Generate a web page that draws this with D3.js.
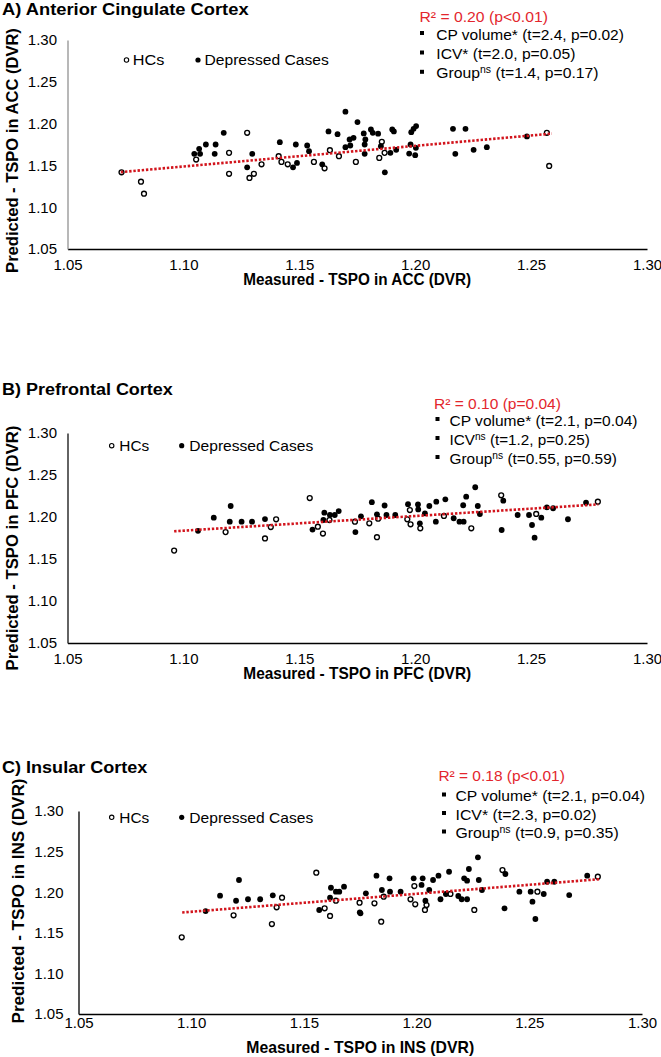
<!DOCTYPE html>
<html><head><meta charset="utf-8">
<script src="https://cdn.jsdelivr.net/npm/d3@7"></script>
<style>
body{margin:0;background:#fff;}
svg{display:block;}
text{font-family:"Liberation Sans",Arial,Helvetica,sans-serif;fill:#000;}
</style>
</head><body>
<svg id="chart" width="661" height="1057"></svg>
<script>
// ---------------- DATA ----------------
const xTicks = [1.05, 1.10, 1.15, 1.20, 1.25, 1.30];
const yTicks = [1.05, 1.10, 1.15, 1.20, 1.25, 1.30];
const legendLabels = ["HCs", "Depressed Cases"];

// Panel A: ACC  [measured, predicted]
const accHC = [[1.0733,1.1417],[1.0817,1.1305],[1.0830,1.1161],[1.1055,1.1570],[1.1197,1.1650],[1.1197,1.1400],[1.1275,1.1890],[1.1285,1.1350],[1.1304,1.1400],[1.1337,1.1513],[1.1411,1.1610],[1.1423,1.1542],[1.1450,1.1513],[1.1563,1.1542],[1.1609,1.1465],[1.1632,1.1682],[1.1671,1.1610],[1.1744,1.1542],[1.1856,1.1782],[1.1868,1.1650],[1.1845,1.1590],[1.2568,1.1890],[1.2578,1.1494]];
const accDC = [[1.1047,1.1638],[1.1072,1.1638],[1.1068,1.1698],[1.1097,1.1750],[1.1139,1.1750],[1.1135,1.1638],[1.1174,1.1890],[1.1297,1.1638],[1.1275,1.1477],[1.1416,1.1778],[1.1473,1.1477],[1.1490,1.1530],[1.1485,1.1750],[1.1534,1.1738],[1.1542,1.1670],[1.1599,1.1513],[1.1626,1.1906],[1.1665,1.1874],[1.1699,1.2143],[1.1699,1.1718],[1.1717,1.1810],[1.1734,1.1830],[1.1720,1.1738],[1.1751,1.2018],[1.1778,1.1882],[1.1809,1.1930],[1.1817,1.1890],[1.1840,1.1879],[1.1785,1.1810],[1.1782,1.1750],[1.1782,1.1638],[1.1852,1.1730],[1.1893,1.1650],[1.1918,1.1686],[1.1869,1.1417],[1.1901,1.1930],[1.1908,1.1906],[1.1983,1.1898],[1.1993,1.1938],[1.2004,1.1970],[1.1980,1.1750],[1.1974,1.1642],[1.2000,1.1622],[1.2003,1.1710],[1.2163,1.1938],[1.2217,1.1938],[1.2173,1.1638],[1.2252,1.1686],[1.2309,1.1718],[1.2482,1.1846]];
const accTrend = [[1.073,1.142],[1.259,1.188]];
const accR2 = "R\u00B2 = 0.20 (p<0.01)";
const accRows = [["CP volume","*"," (t=2.4, p=0.02)"],["ICV","*"," (t=2.0, p=0.05)"],["Group","ns"," (t=1.4, p=0.17)"]];

// Panel B: PFC
const pfcHC = [[1.0960,1.1600],[1.1182,1.1820],[1.1352,1.1745],[1.1377,1.1880],[1.1400,1.1973],[1.1545,1.2226],[1.1580,1.1885],[1.1602,1.1803],[1.1630,1.1964],[1.1740,1.1944],[1.1802,1.1925],[1.1835,1.1760],[1.1840,1.1980],[1.1966,1.1973],[1.1977,1.2083],[1.1980,1.1913],[1.2022,1.1865],[1.2124,1.2012],[1.2242,1.1865],[1.2371,1.2258],[1.2522,1.2036],[1.2788,1.2182]];
const pfcDC = [[1.1063,1.1835],[1.1131,1.1992],[1.1204,1.2131],[1.1200,1.1944],[1.1251,1.1944],[1.1296,1.1944],[1.1352,1.1975],[1.1557,1.1850],[1.1604,1.1964],[1.1608,1.2051],[1.1632,1.2024],[1.1653,1.2024],[1.1670,1.2071],[1.1742,1.1820],[1.1766,1.2008],[1.1813,1.2177],[1.1835,1.2032],[1.1868,1.2137],[1.1876,1.2024],[1.1914,1.2024],[1.1969,1.2153],[1.2012,1.2149],[1.2013,1.2090],[1.2020,1.1925],[1.2042,1.2044],[1.2061,1.2131],[1.2089,1.1944],[1.2091,1.2182],[1.2130,1.2211],[1.2166,1.1985],[1.2191,1.1944],[1.2209,1.1944],[1.2207,1.2140],[1.2220,1.2242],[1.2259,1.2354],[1.2270,1.2131],[1.2279,1.2036],[1.2373,1.1845],[1.2380,1.2194],[1.2442,1.2024],[1.2491,1.2024],[1.2504,1.1905],[1.2515,1.1754],[1.2544,1.1992],[1.2568,1.2115],[1.2595,1.2104],[1.2659,1.1973],[1.2737,1.2170]];
const pfcTrend = [[1.096,1.183],[1.279,1.215]];
const pfcR2 = "R\u00B2 = 0.10 (p=0.04)";
const pfcRows = [["CP volume","*"," (t=2.1, p=0.04)"],["ICV","ns"," (t=1.2, p=0.25)"],["Group","ns"," (t=0.55, p=0.59)"]];

// Panel C: INS
const insHC = [[1.0958,1.1445],[1.1188,1.1716],[1.1358,1.1608],[1.1379,1.1814],[1.1403,1.1932],[1.1555,1.2240],[1.1592,1.1802],[1.1616,1.1707],[1.1642,1.1895],[1.1747,1.1871],[1.1813,1.1863],[1.1843,1.1637],[1.1854,1.1944],[1.1973,1.1913],[1.1990,1.2076],[1.1994,1.1851],[1.2037,1.1781],[1.2044,1.1842],[1.2150,1.1978],[1.2256,1.1781],[1.2381,1.2273],[1.2536,1.2006],[1.2804,1.2191]];
const insDC = [[1.1064,1.1768],[1.1128,1.1957],[1.1212,1.2150],[1.1199,1.1895],[1.1252,1.1913],[1.1306,1.1913],[1.1362,1.1962],[1.1568,1.1781],[1.1616,1.1932],[1.1620,1.2055],[1.1642,1.2006],[1.1657,1.2006],[1.1678,1.2068],[1.1751,1.1740],[1.1748,1.1752],[1.1775,1.1986],[1.1822,1.2203],[1.1846,1.2027],[1.1880,1.2171],[1.1882,1.2006],[1.1929,1.2006],[1.1987,1.2171],[1.2027,1.2171],[1.2022,1.2089],[1.2039,1.1895],[1.2056,1.2027],[1.2073,1.2150],[1.2097,1.2203],[1.2106,1.1913],[1.2144,1.2252],[1.2130,1.1978],[1.2185,1.1953],[1.2200,1.1913],[1.2211,1.2171],[1.2224,1.2142],[1.2232,1.2286],[1.2224,1.1913],[1.2272,1.2430],[1.2276,1.2150],[1.2290,1.2027],[1.2390,1.1802],[1.2394,1.2224],[1.2456,1.2006],[1.2506,1.2006],[1.2514,1.1883],[1.2527,1.1670],[1.2564,1.1978],[1.2579,1.2129],[1.2611,1.2129],[1.2677,1.1965],[1.2757,1.2203]];
const insTrend = [[1.096,1.175],[1.281,1.216]];
const insR2 = "R\u00B2 = 0.18 (p<0.01)";
const insRows = [["CP volume","*"," (t=2.1, p=0.04)"],["ICV","*"," (t=2.3, p=0.02)"],["Group","ns"," (t=0.9, p=0.35)"]];

const titles = ["A) Anterior Cingulate Cortex", "B) Prefrontal Cortex", "C) Insular Cortex"];
const regions = ["ACC", "PFC", "INS"];

// ---------------- LAYOUT ----------------
const RED_TEXT = "#e3262d", RED_LINE = "#d2141c";
const layouts = [
  {x0:67.5, x1:647, y0:249, y1:40, yAxisColor:"#9a9a9a", titleY:14.5, titleW:247,
   r2X:419.5, r2Y:21.5, r2W:128.5, bulletX:420, rowX:436.3, rowYs:[39.5,59,78.3], rowW:[187.7,139.2,162.3],
   legY:60, legC:126.5, legHX:132.8, legHW:31.6, legD:198, legDX:204.5, legDW:124.3,
   xPad:10, xTitleY:285, xTitleW:228, yPad:10.5, yTitleX:18, yTitleY:150.5, yTitleW:245},
  {x0:67.5, x1:647, y0:643, y1:433, yAxisColor:"#222", titleY:395, titleW:171,
   r2X:434, r2Y:408.5, r2W:127, bulletX:435.5, rowX:449.5, rowYs:[425.5,444.5,463.5], rowW:[188,140.5,167.5],
   legY:445.7, legC:111.7, legHX:119.3, legHW:30, legD:181.7, legDX:189.3, legDW:124,
   xPad:10, xTitleY:679, xTitleW:228, yPad:10.5, yTitleX:18, yTitleY:548, yTitleW:245},
  {x0:78.5, x1:642, y0:1014, y1:811, yAxisColor:"#111", titleY:773.3, titleW:145.6,
   r2X:438.4, r2Y:780.5, r2W:126.6, bulletX:442, rowX:455.5, rowYs:[801,819.5,838], rowW:[189.5,141.2,163.2],
   legY:817.3, legC:111.7, legHX:119.3, legHW:30, legD:181.7, legDX:189.3, legDW:124,
   xPad:3.5, xTitleY:1053.3, xTitleW:228, yPad:15, yTitleX:24, yTitleY:901, yTitleW:245}
];
const panelData = [
  {hc:accHC, dc:accDC, trend:accTrend, r2:accR2, rows:accRows},
  {hc:pfcHC, dc:pfcDC, trend:pfcTrend, r2:pfcR2, rows:pfcRows},
  {hc:insHC, dc:insDC, trend:insTrend, r2:insR2, rows:insRows}
];

const svg = d3.select("#chart");
const fmt = d3.format(".2f");

// scale a text horizontally so it fits a target width (reference font is condensed)
function fit(textSel, x, y, w, anchor) {
  const bw = textSel.node().getBBox().width;
  const s = bw > 0 ? w / bw : 1;
  textSel.attr("text-anchor", anchor || "start")
    .attr("transform", `translate(${x},${y}) scale(${s},1)`);
  return textSel;
}

panelData.forEach((pd, i) => {
  const L = layouts[i];
  const g = svg.append("g");
  const x = d3.scaleLinear().domain([xTicks[0], xTicks[xTicks.length-1]]).range([L.x0, L.x1]);
  const y = d3.scaleLinear().domain([yTicks[0], yTicks[yTicks.length-1]]).range([L.y0, L.y1]);

  // axes
  const xa = g.append("g").attr("transform", `translate(0,${L.y0})`)
    .call(d3.axisBottom(x).tickValues(xTicks).tickFormat(fmt).tickSize(0).tickSizeOuter(0).tickPadding(L.xPad));
  xa.select(".domain").attr("stroke", "#000").attr("stroke-width", 1.4);
  xa.selectAll("text").attr("font-size", 15).attr("font-family", "Liberation Sans, Arial, sans-serif");
  const ya = g.append("g").attr("transform", `translate(${L.x0},0)`)
    .call(d3.axisLeft(y).tickValues(yTicks).tickFormat(fmt).tickSize(0).tickSizeOuter(0).tickPadding(L.yPad));
  ya.select(".domain").attr("stroke", L.yAxisColor).attr("stroke-width", 1.4);
  ya.selectAll("text").attr("font-size", 15).attr("font-family", "Liberation Sans, Arial, sans-serif");

  // axis titles
  const xt = g.append("text").attr("font-size", 16).attr("font-weight", "bold")
    .text(`Measured - TSPO in ${regions[i]} (DVR)`);
  fit(xt, (L.x0 + L.x1) / 2, L.xTitleY, L.xTitleW, "middle");
  const ytG = g.append("g").attr("transform", `translate(${L.yTitleX},${L.yTitleY}) rotate(-90)`);
  const yt = ytG.append("text").attr("font-size", 16).attr("font-weight", "bold")
    .text(`Predicted - TSPO in ${regions[i]} (DVR)`);
  fit(yt, 0, 0, L.yTitleW, "middle");

  // panel title
  const tt = g.append("text").attr("font-size", 16).attr("font-weight", "bold").text(titles[i]);
  fit(tt, 2, L.titleY, L.titleW);

  // points
  g.append("g").selectAll("circle").data(pd.hc).join("circle")
    .attr("cx", d => x(d[0])).attr("cy", d => y(d[1])).attr("r", 2.45)
    .attr("fill", "#fff").attr("stroke", "#000").attr("stroke-width", 1.35);
  g.append("g").selectAll("circle").data(pd.dc).join("circle")
    .attr("cx", d => x(d[0])).attr("cy", d => y(d[1])).attr("r", 2.9)
    .attr("fill", "#000");

  // trend line (drawn over points)
  g.append("line")
    .attr("x1", x(pd.trend[0][0])).attr("y1", y(pd.trend[0][1]))
    .attr("x2", x(pd.trend[1][0])).attr("y2", y(pd.trend[1][1]))
    .attr("stroke", RED_LINE).attr("stroke-width", 2.6).attr("stroke-dasharray", "2.4,1.8");

  // legend
  g.append("circle").attr("cx", L.legC).attr("cy", L.legY).attr("r", 2.2)
    .attr("fill", "#fff").attr("stroke", "#000").attr("stroke-width", 1.1);
  fit(g.append("text").attr("font-size", 15).text(legendLabels[0]), L.legHX, L.legY + 5.2, L.legHW);
  g.append("circle").attr("cx", L.legD).attr("cy", L.legY).attr("r", 2.6).attr("fill", "#000");
  fit(g.append("text").attr("font-size", 15).text(legendLabels[1]), L.legDX, L.legY + 5.2, L.legDW);

  // annotations
  fit(g.append("text").attr("font-size", 15).style("fill", RED_TEXT).text(pd.r2), L.r2X, L.r2Y, L.r2W);
  pd.rows.forEach((r, k) => {
    g.append("rect").attr("x", L.bulletX).attr("y", L.rowYs[k] - 8.5).attr("width", 4).attr("height", 4).attr("fill", "#000");
    const t = g.append("text").attr("font-size", 15);
    t.append("tspan").text(r[0]);
    if (r[1] === "*") {
      t.append("tspan").text(r[1]);
      t.append("tspan").text(r[2]);
    } else {
      t.append("tspan").attr("font-size", 10).attr("dy", -5).text(r[1]);
      t.append("tspan").attr("dy", 5).text(r[2]);
    }
    fit(t, L.rowX, L.rowYs[k], L.rowW[k]);
  });
});
</script>
</body></html>
